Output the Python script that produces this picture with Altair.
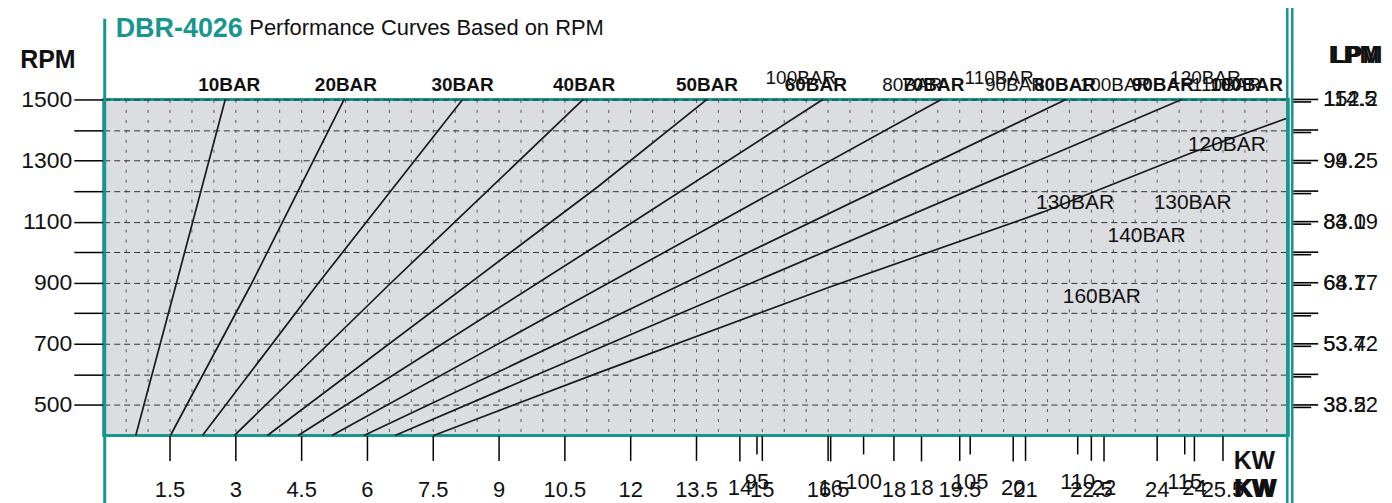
import altair as alt
import pandas as pd

TEAL = "#17968f"
FONT = "Liberation Sans, Arial, sans-serif"
W, H = 1188, 337

# ---------------- text content ----------------
title_code = "DBR-4026"
title_text = "Performance Curves Based on RPM"
left_title = "RPM"
right_title = "LPM"
bottom_title = "KW"

# ---------------- curves (KW vs RPM) ----------------
curve_names = ["10BAR", "20BAR", "30BAR", "40BAR", "50BAR",
               "60BAR", "70BAR", "80BAR", "90BAR", "100BAR"]
curve_kw = [
    [0.73, 1.66, 2.77],
    [1.52, 3.38, 5.48],
    [2.25, 4.90, 8.18],
    [2.98, 6.55, 10.93],
    [3.73, 11.27, 13.75],
    [4.43, 11.27, 16.39],
    [5.20, 11.27, 19.09],
    [5.93, 11.27, 21.93],
    [6.64, 11.27, 24.57],
    [7.52, 11.27, 16.55, 21.40, 24.77, 27.00],
]
curve_rpm = [
    [400, 900, 1500],
    [400, 900, 1500],
    [400, 900, 1500],
    [400, 900, 1500],
    [400, 1215, 1500],
    [400, 1025, 1500],
    [400, 880, 1500],
    [400, 763, 1500],
    [400, 685, 1500],
    [400, 605, 886, 1131, 1324, 1440],
]

# ---------------- labels above the plot ----------------
top_bold_text = ["10BAR", "20BAR", "30BAR", "40BAR", "50BAR",
                 "60BAR", "70BAR", "80BAR", "90BAR", "100BAR"]
top_bold_kw = [2.86, 5.52, 8.18, 10.95, 13.75, 16.23, 18.91, 21.91, 24.14, 26.05]
top_bold_rpm = [1546] * 10

top_reg_text = ["100BAR", "80BAR", "110BAR", "90BAR", "100BAR", "120BAR", "110BAR"]
top_reg_kw = [15.89, 18.43, 20.41, 20.77, 23.05, 25.11, 25.59]
top_reg_rpm = [1569, 1546, 1569, 1546, 1546, 1569, 1546]

# ---------------- labels inside the plot ----------------
inside_text = ["120BAR", "130BAR", "130BAR", "140BAR", "160BAR"]
inside_kw = [25.60, 22.14, 24.82, 23.77, 22.75]
inside_rpm = [1350, 1160, 1160, 1053, 854]

# ---------------- axes values ----------------
rpm_ticks = [500, 600, 700, 800, 900, 1000, 1100, 1200, 1300, 1400, 1500]
kw_grid = [0.5 * i for i in range(1, 54)]

kw_b_text = ["14", "16", "18", "20", "22", "24"]
kw_b_pos = [14.50, 16.57, 18.64, 20.73, 22.80, 24.86]
kw_c_text = ["95", "100", "105", "110", "115"]
kw_c_pos = [14.89, 17.32, 19.75, 22.20, 24.64]

lpm_rpm = [1500, 1300, 1100, 900, 700, 500]
lpm_a = ["114.5", "99.2", "84.0", "68.7", "53.4", "38.2"]
lpm_b = ["152.2", "94.25", "83.19", "64.17", "53.72", "33.52"]

# ---------------- build data frames ----------------
rows = []
for name, kws, rpms in zip(curve_names, curve_kw, curve_rpm):
    for k, r in zip(kws, rpms):
        rows.append({"curve": name, "kw": k, "rpm": r})
curves = pd.DataFrame(rows)

x_scale = alt.Scale(domain=[0, 27], nice=False, zero=False)
y_scale = alt.Scale(domain=[400, 1500], nice=False, zero=False)

x_axis = alt.Axis(
    values=kw_grid, grid=True, gridDash=[3, 7], gridColor="#4a4a4a", gridWidth=1,
    gridOpacity=0.9,
    tickSize=25, tickColor="black", tickWidth=1.5,
    tickOpacity={"condition": {"test": "datum.value % 1.5 == 0", "value": 1}, "value": 0},
    labelExpr="datum.value % 1.5 == 0 ? format(datum.value, '~g') : ''",
    labelFont=FONT, labelFontSize=22, labelColor="#111", labelPadding=19,
    labelOverlap=False, labelFlush=False, domain=False, title=None,
)
y_axis = alt.Axis(
    values=rpm_ticks, grid=True, gridDash=[6, 4], gridColor="#333", gridWidth=1,
    tickSize=30, tickColor="black", tickWidth=1.5, format="d",
    labelExpr="datum.value % 200 == 100 ? datum.label : ''",
    labelFont=FONT, labelFontSize=23, labelColor="#111", labelPadding=2,
    labelOverlap=False, labelFlush=False, domain=False, title=None,
)

X = lambda f="kw": alt.X(f"{f}:Q", scale=x_scale, axis=x_axis)
Y = lambda f="rpm": alt.Y(f"{f}:Q", scale=y_scale, axis=y_axis)

lines = alt.Chart(curves).mark_line(color="#1a1a1a", strokeWidth=1.7).encode(
    x=X(), y=Y(), detail="curve:N", order="rpm:Q",
)


def text_layer(texts, kws, rpms, size, weight="normal", color="#111"):
    df = pd.DataFrame({"t": texts, "kw": kws, "rpm": rpms})
    return alt.Chart(df).mark_text(
        font=FONT, fontSize=size, fontWeight=weight, color=color, baseline="middle"
    ).encode(x=X(), y=Y(), text="t:N")


top_bold = text_layer(top_bold_text, top_bold_kw, top_bold_rpm, 19, "bold")
top_reg = text_layer(top_reg_text, top_reg_kw, top_reg_rpm, 19)
inside = text_layer(inside_text, inside_kw, inside_rpm, 21)

# extra bottom ticks / labels
kwb = pd.DataFrame({"t": kw_b_text, "kw": kw_b_pos})
kwc = pd.DataFrame({"t": kw_c_text, "kw": kw_c_pos})
kwb_ticks = alt.Chart(kwb).mark_rule(color="black", strokeWidth=1.5).encode(
    x=X(), y=alt.value(H + 1), y2=alt.value(H + 26))
kwc_ticks = alt.Chart(kwc).mark_rule(color="black", strokeWidth=1.5).encode(
    x=X(), y=alt.value(H + 1), y2=alt.value(H + 19))
kwb_text = alt.Chart(kwb).mark_text(font=FONT, fontSize=22, color="#111", baseline="middle").encode(
    x=X(), y=alt.value(H + 53), text="t:N")
kwc_text = alt.Chart(kwc).mark_text(font=FONT, fontSize=22, color="#111", baseline="middle").encode(
    x=X(), y=alt.value(H + 47), text="t:N")

# right side LPM ticks and labels
rticks = pd.DataFrame({"rpm": rpm_ticks})
rtick1 = alt.Chart(rticks).mark_rule(color="black", strokeWidth=1.6).encode(
    x=alt.value(W + 4), x2=alt.value(W + 30), y=Y())
rtick2 = alt.Chart(rticks).mark_rule(color="black", strokeWidth=1.6, yOffset=2.5).encode(
    x=alt.value(W + 4), x2=alt.value(W + 23), y=Y())
lpm_df = pd.DataFrame({"rpm": lpm_rpm, "a": lpm_a, "b": lpm_b})
lpm_a_layer = alt.Chart(lpm_df).mark_text(font=FONT, fontSize=22, color="#111", align="left",
                                          baseline="middle").encode(
    x=alt.value(W + 35), y=Y(), text="a:N")
lpm_b_layer = alt.Chart(lpm_df).mark_text(font=FONT, fontSize=22, color="#111", align="left",
                                          baseline="middle").encode(
    x=alt.value(W + 35), y=Y(), text="b:N")

# frame lines (teal)
one = pd.DataFrame({"a": [0]})
left_line = alt.Chart(one).mark_rule(color=TEAL, strokeWidth=3).encode(
    x=alt.value(1), y=alt.value(-81), y2=alt.value(H + 80))
right_line1 = alt.Chart(one).mark_rule(color=TEAL, strokeWidth=2.5).encode(
    x=alt.value(W - 1), y=alt.value(-99), y2=alt.value(H + 80))
right_line2 = alt.Chart(one).mark_rule(color=TEAL, strokeWidth=2.5).encode(
    x=alt.value(W + 4), y=alt.value(-99), y2=alt.value(H + 80))


def pix_text(txt, x, y, size, weight="normal", color="#111", align="left", dx=0):
    return alt.Chart(pd.DataFrame({"t": [txt]})).mark_text(
        font=FONT, fontSize=size, fontWeight=weight, color=color, align=align,
        baseline="alphabetic", dx=dx
    ).encode(x=alt.value(x), y=alt.value(y), text="t:N")


t_code = pix_text(title_code, 12, -63, 27, "bold", TEAL)
t_rest = pix_text(title_text, 146, -65, 22)
t_rpm = pix_text(left_title, -56, -32, 25, "bold", align="center")
t_lpm1 = pix_text(right_title, W + 66, -37, 24, "bold", align="center")
t_lpm2 = pix_text(right_title, W + 66, -37, 24, "bold", align="center", dx=3)
t_kw1 = pix_text(bottom_title, W - 34, H + 34, 25, "bold", align="center")
t_kw2 = pix_text(bottom_title, W - 34, H + 62, 25, "bold", align="center")
t_kw3 = pix_text(bottom_title, W - 34, H + 62, 25, "bold", align="center", dx=2)

chart = alt.layer(
    lines, top_bold, top_reg, inside,
    kwb_ticks, kwc_ticks, kwb_text, kwc_text,
    rtick1, rtick2, lpm_a_layer, lpm_b_layer,
    left_line, right_line1, right_line2,
    t_code, t_rest, t_rpm, t_lpm1, t_lpm2, t_kw1, t_kw2, t_kw3,
).properties(
    width=W, height=H,
    padding={"left": 96, "top": 91, "right": 96, "bottom": 67},
    autosize=alt.AutoSizeParams(type="none"),
).configure_view(
    fill="#dcdde0", stroke=TEAL, strokeWidth=3
)

chart.save("out.html", embed_options={"renderer": "svg", "actions": False})
